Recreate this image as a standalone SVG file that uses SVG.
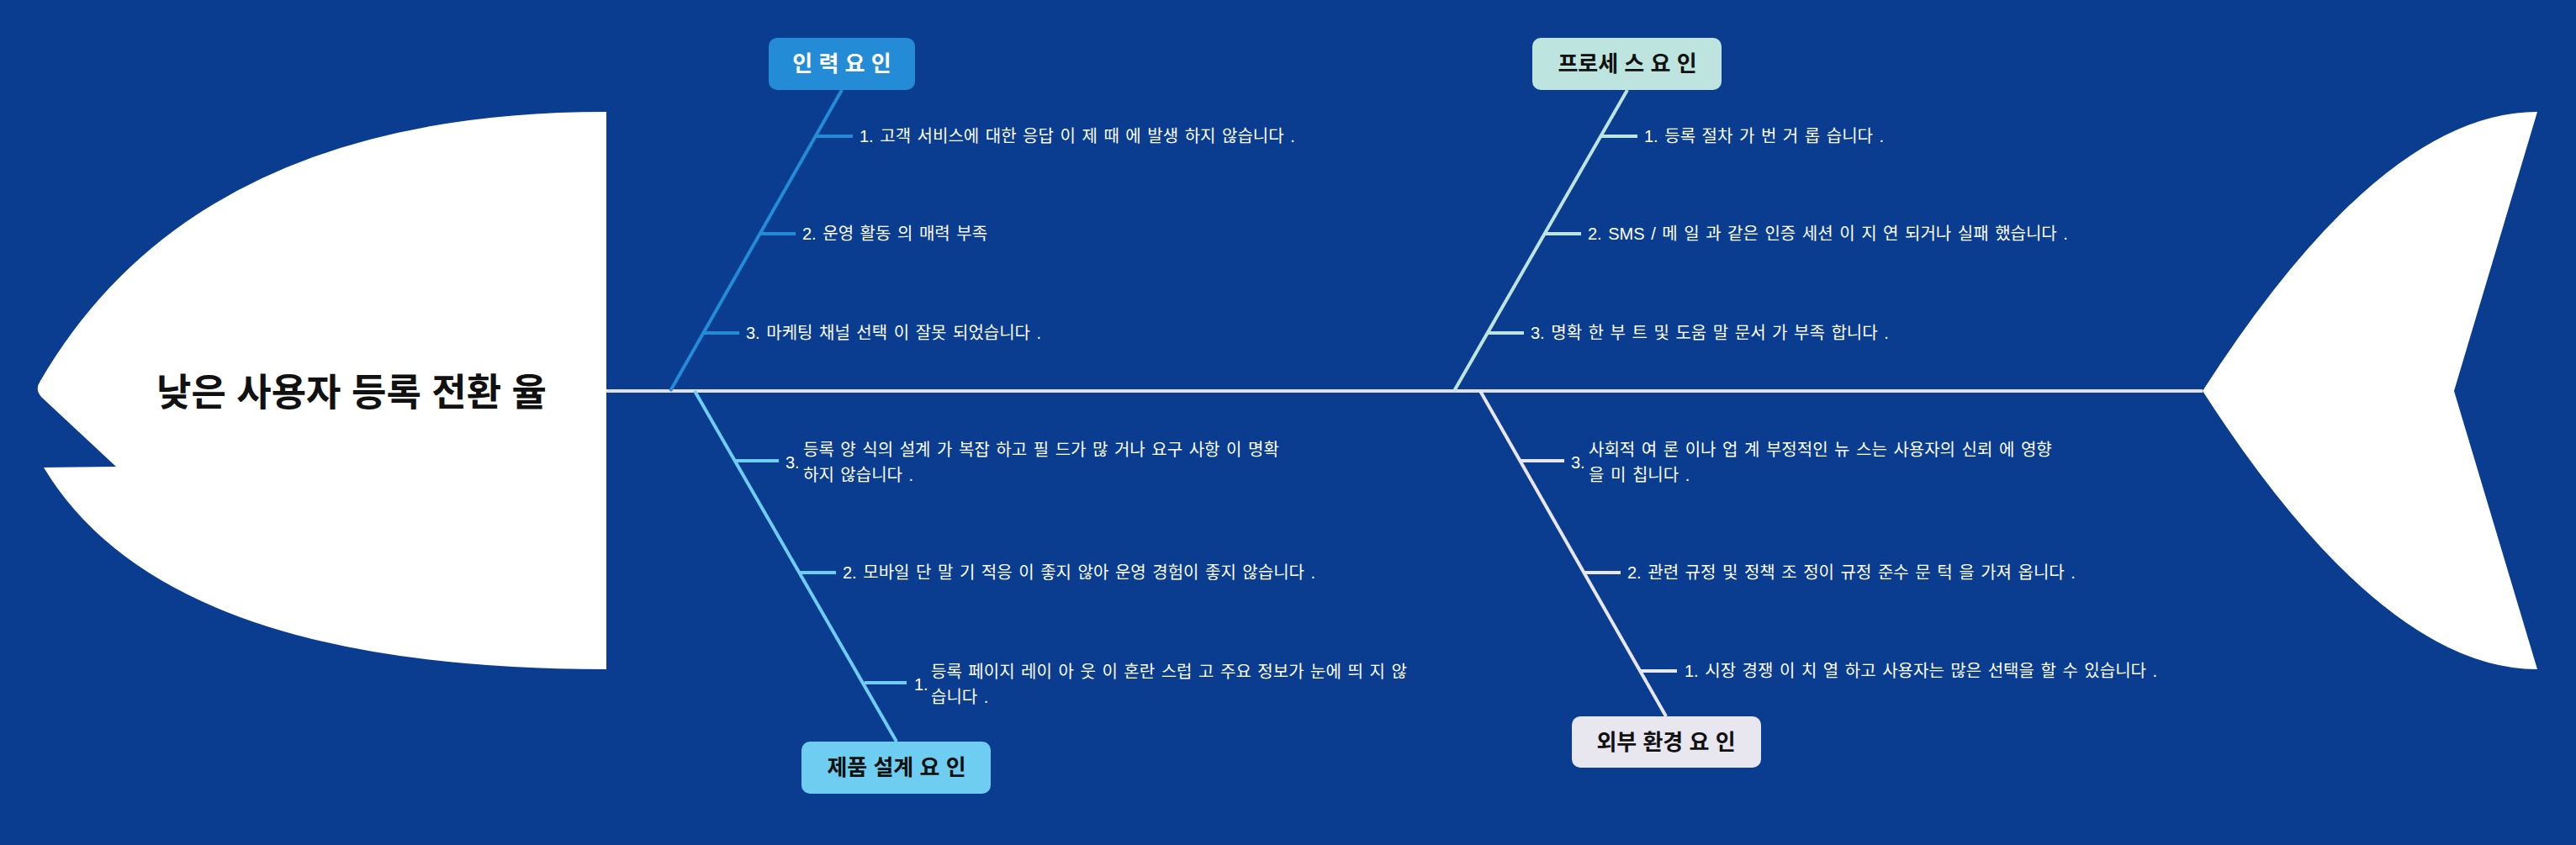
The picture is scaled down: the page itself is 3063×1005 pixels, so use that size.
<svg xmlns="http://www.w3.org/2000/svg" width="3063" height="1005" viewBox="0 0 3063 1005">
<style>
.t{font-family:"Liberation Sans","Noto Sans CJK KR",sans-serif;}
.cause{font-size:20px;fill:#ffffff;dominant-baseline:central;word-spacing:2px;}
.cat{font-size:26px;font-weight:bold;text-anchor:middle;dominant-baseline:central;}
.bone{fill:none;stroke-width:4;stroke-linecap:butt;}
.c1{stroke:#248bd6;}
.c2{stroke:#bde4de;}
.c3{stroke:#6ecdf0;}
.c4{stroke:#e8e6ef;}
</style>
<rect x="0" y="0" width="3063" height="1005" fill="#0a3d8f"/>

<g id="connectors">
  <line class="bone" x1="721" y1="465" x2="2619" y2="465" stroke="#dfe0e8" stroke-width="4"/>
  <line class="bone c1" x1="1001" y1="107" x2="797" y2="465"/>
  <line class="bone c1" x1="970" y1="162" x2="1014" y2="162"/>
  <line class="bone c1" x1="904" y1="278" x2="946" y2="278"/>
  <line class="bone c1" x1="837" y1="396" x2="879" y2="396"/>
  <line class="bone c2" x1="1935" y1="107" x2="1729" y2="465"/>
  <line class="bone c2" x1="1903" y1="162" x2="1947" y2="162"/>
  <line class="bone c2" x1="1837" y1="278" x2="1880" y2="278"/>
  <line class="bone c2" x1="1769" y1="396" x2="1812" y2="396"/>
  <line class="bone c3" x1="826" y1="465" x2="1066" y2="882"/>
  <line class="bone c3" x1="874" y1="548" x2="926" y2="548"/>
  <line class="bone c3" x1="951" y1="681" x2="994" y2="681"/>
  <line class="bone c3" x1="1028" y1="812" x2="1078" y2="812"/>
  <line class="bone c4" x1="1760" y1="465" x2="1981" y2="852"/>
  <line class="bone c4" x1="1808" y1="548" x2="1860" y2="548"/>
  <line class="bone c4" x1="1884" y1="681" x2="1927" y2="681"/>
  <line class="bone c4" x1="1950" y1="798" x2="1994" y2="798"/>
</g>

<g id="head">
  <path d="M721,133 Q234,133 48,453 Q41,463 49,472 L138,555 L52,556 Q196,796 721,796 Z" fill="#ffffff"/>
  <text class="t" x="418" y="467" font-size="45" font-weight="bold" fill="#111111" text-anchor="middle" dominant-baseline="central">낮은 사용자 등록 전환 율</text>
</g>

<g id="tail">
  <path d="M2619,465 Q2832,133 3017,133 L2918,465 L3017,796 Q2832,796 2619,465 Z" fill="#ffffff"/>
</g>

<g id="cat-manpower">
  <rect x="914" y="45" width="174" height="62" rx="10" fill="#248bd6"/>
  <text class="t cat" x="1001" y="76" fill="#ffffff">인 력 요 인</text>
</g>
<g id="cause-manpower-1"><text class="t cause" x="1022" y="162">1. 고객 서비스에 대한 응답 이 제 때 에 발생 하지 않습니다 .</text></g>
<g id="cause-manpower-2"><text class="t cause" x="954" y="278">2. 운영 활동 의 매력 부족</text></g>
<g id="cause-manpower-3"><text class="t cause" x="887" y="396">3. 마케팅 채널 선택 이 잘못 되었습니다 .</text></g>

<g id="cat-process">
  <rect x="1822" y="45" width="225" height="62" rx="10" fill="#bde4de"/>
  <text class="t cat" x="1935" y="76" fill="#111111">프로세 스 요 인</text>
</g>
<g id="cause-process-1"><text class="t cause" x="1955" y="162">1. 등록 절차 가 번 거 롭 습니다 .</text></g>
<g id="cause-process-2"><text class="t cause" x="1888" y="278">2. SMS / 메 일 과 같은 인증 세션 이 지 연 되거나 실패 했습니다 .</text></g>
<g id="cause-process-3"><text class="t cause" x="1820" y="396">3. 명확 한 부 트 및 도움 말 문서 가 부족 합니다 .</text></g>

<g id="cat-product">
  <rect x="953" y="882" width="225" height="62" rx="10" fill="#6ecdf0"/>
  <text class="t cat" x="1066" y="913" fill="#111111">제품 설계 요 인</text>
</g>
<g id="cause-product-3">
  <text class="t cause" x="934" y="550">3.</text>
  <text class="t cause" x="955" y="535">등록 양 식의 설계 가 복잡 하고 필 드가 많 거나 요구 사항 이 명확</text>
  <text class="t cause" x="955" y="565">하지 않습니다 .</text>
</g>
<g id="cause-product-2"><text class="t cause" x="1002" y="681">2. 모바일 단 말 기 적응 이 좋지 않아 운영 경험이 좋지 않습니다 .</text></g>
<g id="cause-product-1">
  <text class="t cause" x="1087" y="814">1.</text>
  <text class="t cause" x="1107" y="799">등록 페이지 레이 아 웃 이 혼란 스럽 고 주요 정보가 눈에 띄 지 않</text>
  <text class="t cause" x="1107" y="829">습니다 .</text>
</g>

<g id="cat-external">
  <rect x="1869" y="852" width="225" height="61" rx="10" fill="#e8e6ef"/>
  <text class="t cat" x="1981" y="883" fill="#111111">외부 환경 요 인</text>
</g>
<g id="cause-external-3">
  <text class="t cause" x="1868" y="550">3.</text>
  <text class="t cause" x="1889" y="535">사회적 여 론 이나 업 계 부정적인 뉴 스는 사용자의 신뢰 에 영향</text>
  <text class="t cause" x="1889" y="565">을 미 칩니다 .</text>
</g>
<g id="cause-external-2"><text class="t cause" x="1935" y="681">2. 관련 규정 및 정책 조 정이 규정 준수 문 턱 을 가져 옵니다 .</text></g>
<g id="cause-external-1"><text class="t cause" x="2003" y="798">1. 시장 경쟁 이 치 열 하고 사용자는 많은 선택을 할 수 있습니다 .</text></g>
</svg>
